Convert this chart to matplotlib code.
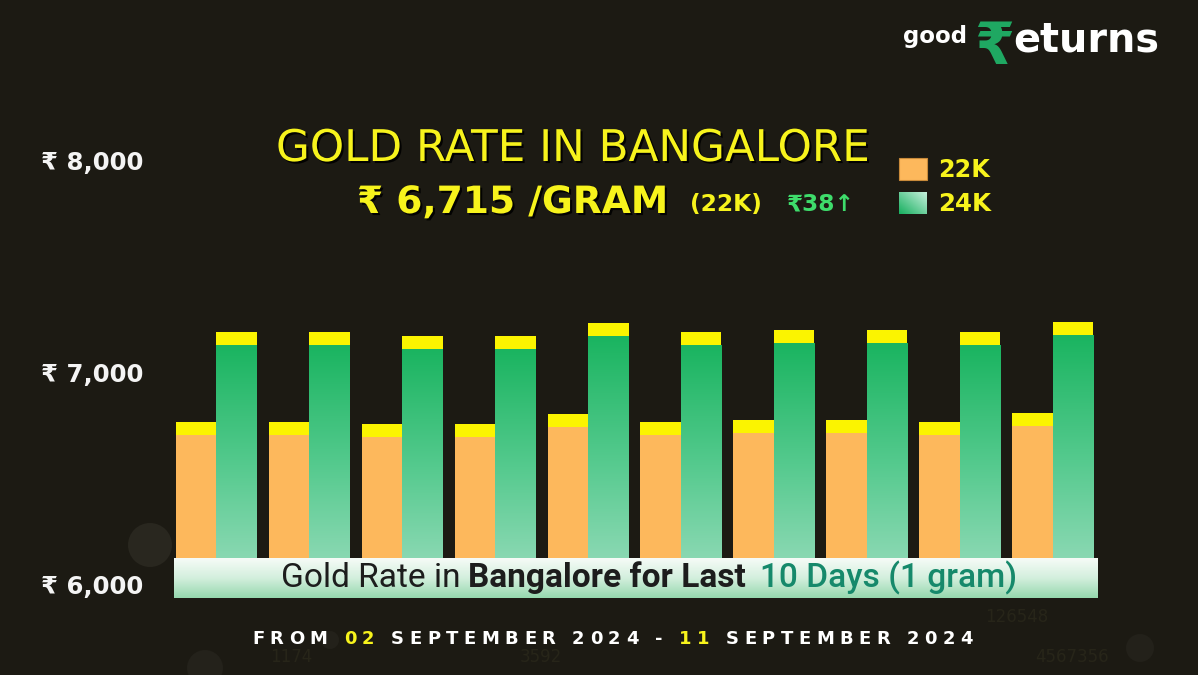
import matplotlib
matplotlib.use('Agg')
import matplotlib.pyplot as plt
import numpy as np
from matplotlib import patheffects as pe
from matplotlib.colors import LinearSegmentedColormap
from matplotlib.patches import Rectangle, Ellipse

# ---------------- data ----------------
days = ['02 Sep', '03 Sep', '04 Sep', '05 Sep', '06 Sep',
        '07 Sep', '08 Sep', '09 Sep', '10 Sep', '11 Sep']
rate_22k = [6766, 6766, 6758, 6758, 6806, 6767, 6776, 6776, 6766, 6811]
rate_24k = [7191, 7191, 7172, 7172, 7233, 7191, 7200, 7200, 7191, 7238]
y_ticks = [6000, 7000, 8000]
y_tick_labels = ['₹ 6,000', '₹ 7,000', '₹ 8,000']
series_labels = ['22K', '24K']
title_text = 'GOLD RATE IN BANGALORE'
price_text = '₹ 6,715 /GRAM'
price_unit = '(22K)'
change_text = '₹38↑'
banner_parts = ['Gold Rate in', 'Bangalore for Last', '10 Days (1 gram)']
date_parts = ['FROM', '02', 'SEPTEMBER 2024 -', '11', 'SEPTEMBER 2024']
bg_numbers = ['126548', '4567356', '1174', '3592']

# ---------------- style ----------------
W, H = 1198, 675
BG = '#1c1a13'
ORANGE = '#fdb85c'
YELLOW = '#fbf400'
GREEN_TOP = '#1ab460'
GREEN_BOT = '#98dcbc'
TXT_YEL = '#f7f31c'

fig = plt.figure(figsize=(W / 100, H / 100), dpi=100, facecolor=BG)
renderer = fig.canvas.get_renderer()


def fx(px):
    return px / W


def fy(py):
    return 1 - py / H


def wpx(t):
    return t.get_window_extent(renderer).width


# ---------------- faint background decoration ----------------
for (cx, cy, r, c) in [(150, 545, 22, '#29271f'), (205, 668, 18, '#24221b'),
                       (330, 640, 9, '#23211a'), (1140, 648, 14, '#23211a')]:
    fig.patches.append(Ellipse((fx(cx), fy(cy)), 2 * r / W, 2 * r / H,
                               transform=fig.transFigure,
                               facecolor=c, edgecolor='none', zorder=0))
for (s, px, py) in zip(bg_numbers, [985, 1035, 270, 520], [622, 662, 662, 662]):
    fig.text(fx(px), fy(py), s, color='#272519', fontsize=12, va='baseline', zorder=0)

# ---------------- main axes ----------------
ax = fig.add_axes([fx(170), fy(585), fx(1099) - fx(170), fy(160) - fy(585)], zorder=1)
ax.set_facecolor('none')
x = np.arange(len(days))
bw = 0.436
cap = 62
base = 6000
r22 = np.array(rate_22k)
r24 = np.array(rate_24k)

ax.bar(x - bw / 2, r22 - cap - base, bw, bottom=base, color=ORANGE, linewidth=0, zorder=2)
ax.bar(x - bw / 2, cap, bw, bottom=r22 - cap, color=YELLOW, linewidth=0, zorder=3)
b24 = ax.bar(x + bw / 2, r24 - cap - base, bw, bottom=base, color='none', linewidth=0, zorder=2)
ax.bar(x + bw / 2, cap, bw, bottom=r24 - cap, color=YELLOW, linewidth=0, zorder=3)

cmap = LinearSegmentedColormap.from_list('g', [GREEN_BOT, '#55ca8e', GREEN_TOP])
grad = np.linspace(0, 1, 256).reshape(-1, 1)
for p in b24:
    x0, y0, w, h = p.get_x(), p.get_y(), p.get_width(), p.get_height()
    im = ax.imshow(grad, cmap=cmap, origin='lower', extent=(x0, x0 + w, y0, y0 + h),
                   aspect='auto', zorder=2, interpolation='bilinear')
    im.set_clip_path(p)

ax.set_xlim(-0.5, 9.5)
ax.set_ylim(6000, 8000)
for s in ax.spines.values():
    s.set_visible(False)
ax.set_xticks([])
ax.set_yticks(y_ticks)
ax.set_yticklabels(y_tick_labels, fontweight='bold')
ax.tick_params(axis='y', length=0, pad=19.5, labelcolor='#f4f4f4', labelsize=16)
fig.canvas.draw()
lab = ax.get_yticklabels()[-1]
k = 103 / wpx(lab)
ax.tick_params(axis='y', labelsize=16 * k)

# ---------------- banner ----------------
bn = fig.add_axes([fx(174), fy(598), fx(1098) - fx(174), fy(558) - fy(598)], zorder=3)
bcmap = LinearSegmentedColormap.from_list('b', ['#96d8ae', '#d3efdd', '#f6fbf7'])
bn.imshow(np.linspace(0, 1, 64).reshape(-1, 1), cmap=bcmap, origin='lower',
          aspect='auto', extent=(0, 1, 0, 1), interpolation='bilinear')
bn.set_axis_off()


# ---------------- text helpers ----------------
def runs(pieces, x0, base_y, target=None, gaps=None):
    texts = [fig.text(0, fy(base_y), s, va='baseline', ha='left', zorder=6, **kw)
             for s, kw in pieces]
    gaps = gaps if gaps is not None else [0] * len(texts)
    if target:
        for _ in range(3):
            ws = [wpx(t) for t in texts]
            kk = (target - sum(gaps[:-1])) / sum(ws)
            for t in texts:
                t.set_fontsize(t.get_fontsize() * kk)
    ws = [wpx(t) for t in texts]
    cur = x0
    for t, w, g in zip(texts, ws, gaps):
        t.set_x(fx(cur))
        cur += w + g
    return texts


def tracked(parts, x0, x1, base_y, size, **kw):
    chars = []
    for s, c in parts:
        for ch in s:
            chars.append((ch, c))
    texts = []
    for ch, c in chars:
        if ch == ' ':
            texts.append(None)
        else:
            texts.append(fig.text(0, fy(base_y), ch, color=c, fontsize=size,
                                  va='baseline', ha='left', zorder=6, **kw))
    ws = [wpx(t) if t is not None else None for t in texts]
    space_w = size * 100 / 72 * 0.3
    tot = sum(w if w is not None else space_w for w in ws)
    track = (x1 - x0 - tot) / (len(chars) - 1)
    cur = x0
    for t, w in zip(texts, ws):
        if t is not None:
            t.set_x(fx(cur))
            cur += w + track
        else:
            cur += space_w + track


shadow = [pe.withSimplePatchShadow(offset=(1.5, -1.5), shadow_rgbFace='#000000', alpha=0.9)]

# title
runs([(title_text, dict(color=TXT_YEL, fontsize=28, family='DejaVu Sans',
                        path_effects=shadow))], 276, 161, target=594)
runs([(price_text, dict(color=TXT_YEL, fontsize=26, family='DejaVu Sans', weight='bold',
                        path_effects=shadow))], 357, 213, target=311)
runs([(price_unit, dict(color=TXT_YEL, fontsize=14, family='DejaVu Sans', weight='bold'))],
     690, 211, target=72)
runs([(change_text, dict(color='#3edc6b', fontsize=14, family='DejaVu Sans', weight='bold'))],
     787, 211, target=68)

# legend
fig.patches.append(Rectangle((fx(899), fy(180)), fx(28), 22 / H, transform=fig.transFigure,
                             facecolor=ORANGE, edgecolor='#c88a3a', linewidth=0.8, zorder=5))
lg = fig.add_axes([fx(899), fy(214), fx(28), 22 / H], zorder=5)
xx, yy = np.meshgrid(np.linspace(0, 1, 32), np.linspace(0, 1, 32))
lg.imshow((xx + (1 - yy)) / 2, cmap=LinearSegmentedColormap.from_list('l', ['#18b060', '#c9f1de']),
          origin='upper', aspect='auto', interpolation='bilinear')
lg.set_axis_off()
runs([(series_labels[0], dict(color=TXT_YEL, fontsize=14, family='DejaVu Sans', weight='bold'))],
     938, 177, target=52)
runs([(series_labels[1], dict(color=TXT_YEL, fontsize=14, family='DejaVu Sans', weight='bold'))],
     938, 211, target=53)

# logo
runs([('good', dict(color='white', fontsize=18, family='DejaVu Sans', weight='bold'))],
     903, 43, target=64)
runs([('₹', dict(color='#1fa862', fontsize=44, family='DejaVu Sans', weight='bold'))],
     974, 64, target=40)
runs([('eturns', dict(color='white', fontsize=26, family='DejaVu Sans', weight='bold'))],
     1013, 51, target=146)

# banner text
runs([(banner_parts[0], dict(color='#1d1d1d', fontsize=16, family='Roboto')),
      (banner_parts[1], dict(color='#1d1d1d', fontsize=16, family='Roboto', weight='bold')),
      (banner_parts[2], dict(color='#16896b', fontsize=16, family='Roboto', weight='medium'))],
     281, 587, target=737, gaps=[8, 14, 0])

# date line
tracked([(date_parts[0] + ' ', 'white'), (date_parts[1], TXT_YEL),
         (' ' + date_parts[2] + ' ', 'white'), (date_parts[3], TXT_YEL),
         (' ' + date_parts[4], 'white')],
        252, 973, 644, 13, family='DejaVu Sans', weight='bold')

fig.savefig('out.png', dpi=100, facecolor=BG)
